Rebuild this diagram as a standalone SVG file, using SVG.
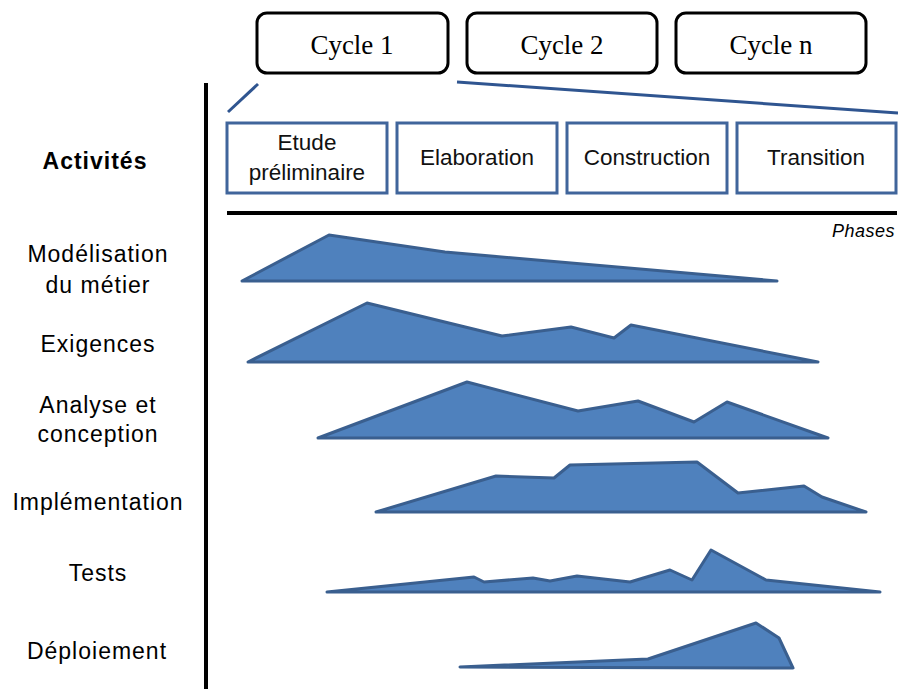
<svg xmlns="http://www.w3.org/2000/svg" width="898" height="689" viewBox="0 0 898 689">
<style>
.cycle rect{fill:#fff;stroke:#000;stroke-width:3}
.cycle text{font-family:"Liberation Serif",serif;font-size:27px;fill:#000;text-anchor:middle}
.phase rect{fill:#fff;stroke:#40659B;stroke-width:3}
.phase text{font-family:"Liberation Sans",Arial,sans-serif;font-size:22.5px;fill:#111;text-anchor:middle}
.act{font-family:"Liberation Sans",Arial,sans-serif;font-size:23px;letter-spacing:1px;fill:#000;text-anchor:middle}
.wave{fill:#4F81BD;stroke:#3A5F8F;stroke-width:3;stroke-linejoin:round}
.conn{stroke:#2F5590;stroke-width:3;fill:none}
</style>
<rect width="898" height="689" fill="#fff"/>
<g id="cycle1" class="cycle"><rect x="257" y="13" width="191" height="60" rx="10"/><text x="352" y="54">Cycle 1</text></g>
<g id="cycle2" class="cycle"><rect x="467" y="13" width="190" height="60" rx="10"/><text x="562" y="54">Cycle 2</text></g>
<g id="cyclen" class="cycle"><rect x="676" y="13" width="190" height="60" rx="10"/><text x="771" y="54">Cycle n</text></g>
<g id="connectors">
<line class="conn" x1="258" y1="84" x2="228" y2="112"/>
<line class="conn" x1="457" y1="82" x2="898" y2="113"/>
<line x1="206" y1="83" x2="206" y2="689" stroke="#000" stroke-width="4"/>
<line x1="227" y1="213" x2="897" y2="213" stroke="#000" stroke-width="4"/>
</g>
<g id="phase-etude" class="phase"><rect x="227" y="123" width="160" height="70"/><text x="307" y="150">Etude</text><text x="307" y="180">préliminaire</text></g>
<g id="phase-elaboration" class="phase"><rect x="397" y="123" width="160" height="70"/><text x="477" y="165">Elaboration</text></g>
<g id="phase-construction" class="phase"><rect x="567" y="123" width="160" height="70"/><text x="647" y="165">Construction</text></g>
<g id="phase-transition" class="phase"><rect x="737" y="123" width="159" height="70"/><text x="816" y="165">Transition</text></g>
<text x="895" y="237" font-family="Liberation Sans,Arial,sans-serif" font-size="18" letter-spacing="0.5" font-style="italic" text-anchor="end" fill="#000">Phases</text>
<g id="activities">
<text class="act" x="95" y="169" font-weight="bold">Activités</text>
<text class="act" x="98" y="262">Modélisation</text>
<text class="act" x="98" y="293">du métier</text>
<text class="act" x="98" y="352">Exigences</text>
<text class="act" x="98" y="413">Analyse et</text>
<text class="act" x="98" y="442">conception</text>
<text class="act" x="98" y="510">Implémentation</text>
<text class="act" x="98" y="581">Tests</text>
<text class="act" x="97" y="659">Déploiement</text>
</g>
<g id="wave-modelisation"><polygon class="wave" points="242,281 329,235 445,252 777,281"/></g>
<g id="wave-exigences"><polygon class="wave" points="248,362 367,303 502,336 571,327 614,338 631,325 818,362"/></g>
<g id="wave-analyse"><polygon class="wave" points="318,438 467,382 578,411 638,401 694,422 727,402 828,438"/></g>
<g id="wave-implementation"><polygon class="wave" points="376,512 496,476 554,478 570,465 697,462 738,493 804,486 822,497 866,512"/></g>
<g id="wave-tests"><polygon class="wave" points="327,592 474,577 484,582 533,578 550,581 577,576 630,582 670,570 692,580 711,550 766,580 880,592"/></g>
<g id="wave-deploiement"><polygon class="wave" points="460,667 648,659 756,623 779,638 793,668"/></g>
</svg>
